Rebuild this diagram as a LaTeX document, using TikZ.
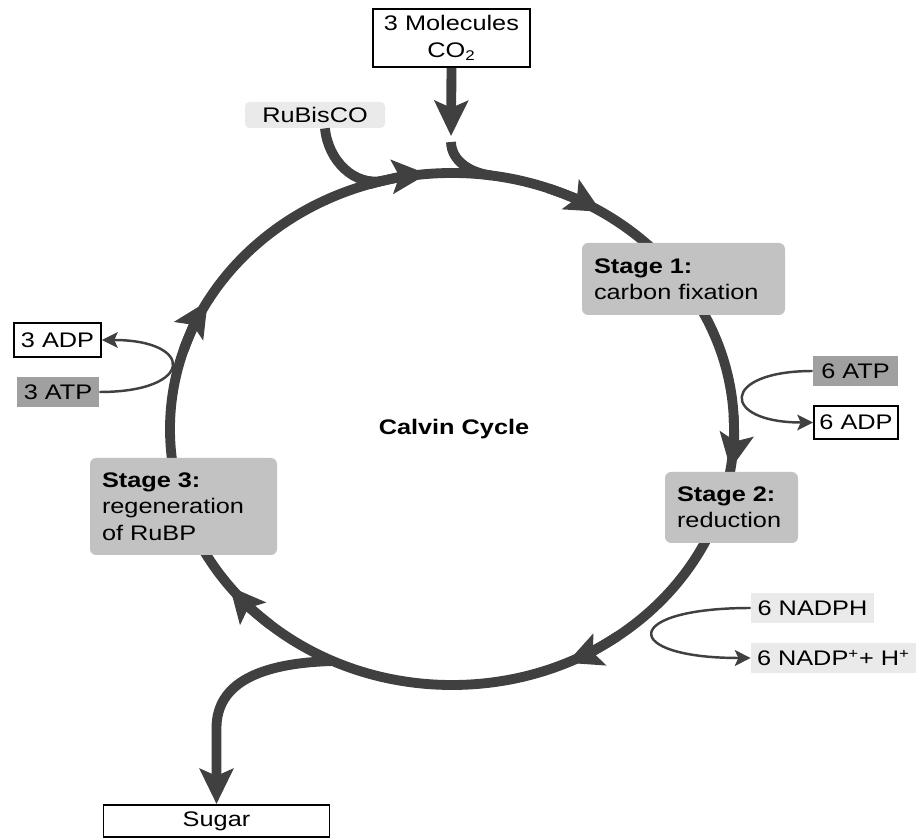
\documentclass[tikz,border=0pt]{standalone}
\usepackage{fontspec}
\setmainfont{Liberation Sans}[FakeStretch=1.2]
\usepackage{xcolor}
\usepackage{tikz}
\usetikzlibrary{arrows.meta}

\definecolor{cyclegray}{HTML}{404040}
\definecolor{stagegray}{HTML}{C2C2C2}
\definecolor{atpgray}{HTML}{A0A0A0}
\definecolor{palegray}{HTML}{EAEAEA}

\tikzset{
  every node/.style={font=\fontsize{12}{15}\selectfont},
  ring/.style={draw=cyclegray, line width=5.6pt},
  bigtip/.style={-{Stealth[length=20pt,width=19pt,inset=4pt]}},
  sidearrow/.style={draw=cyclegray, line width=1.4pt, -{Stealth[length=9pt,width=9pt,inset=2pt]}},
  stage/.style={fill=stagegray, rounded corners=3.5pt, align=left, inner xsep=0.24cm},
  whitebox/.style={draw=black, line width=1.1pt, fill=white, inner sep=0pt},
  atp/.style={fill=atpgray, inner sep=0pt},
  pale/.style={fill=palegray, inner sep=0pt},
}

\begin{document}
\begin{tikzpicture}
\useasboundingbox (0,0) rectangle (18.32,16.76);
% the cycle and its arrow heads
\draw[ring] (9.04,8.18) ellipse [x radius=5.64, y radius=5.12];
\foreach \a in {95,58,-9,-66,-142,150}
  \draw[ring, bigtip] ({9.04+5.64*cos(\a+12)},{8.18+5.12*sin(\a+12)})
    arc[start angle=\a+12, end angle=\a, x radius=5.64, y radius=5.12];
\coordinate (co2fork) at ({9.04+5.64*cos(82)},{8.18+5.12*sin(82)});
\coordinate (rubfork) at ({9.04+5.64*cos(104)},{8.18+5.12*sin(104)});
\coordinate (sugarfork) at ({9.04+5.64*cos(245)},{8.18+5.12*sin(245)});
\coordinate (co2tip) at (9.02,14.04);
\coordinate (co2gap) at (9.02,13.92);
%
\node[whitebox, minimum width=3.14cm, minimum height=1.16cm, align=center] (co2) at (9.03,16.0) {3 Molecules\\CO\textsubscript{2}};
\node[pale, rounded corners=2.5pt, minimum width=2.8cm, minimum height=0.52cm] (rubisco) at (6.30,14.46) {RuBisCO};
\node[stage, text width=3.58cm, minimum height=1.44cm] (stage1) at (13.67,11.18) {\textbf{Stage 1:}\\carbon fixation};
\node[stage, text width=2.18cm, minimum height=1.42cm] (stage2) at (14.63,6.61) {\textbf{Stage 2:}\\reduction};
\node[stage, text width=3.26cm, minimum height=1.94cm] (stage3) at (3.67,6.63) {\textbf{Stage 3:}\\regeneration\\of RuBP};
\node[font=\fontsize{12}{15}\selectfont\bfseries, anchor=base] (calvin) at (9.08,8.06) {Calvin Cycle};
\node[whitebox, minimum width=1.74cm, minimum height=0.68cm] (adp3) at (1.15,9.96) {3 ADP};
\node[atp, minimum width=1.64cm, minimum height=0.60cm] (atp3) at (1.16,8.92) {3 ATP};
\node[atp, minimum width=1.70cm, minimum height=0.60cm] (atp6) at (17.11,9.34) {6 ATP};
\node[whitebox, minimum width=1.68cm, minimum height=0.66cm] (adp6) at (17.12,8.31) {6 ADP};
\node[pale, minimum width=2.46cm, minimum height=0.60cm] (nadph) at (16.25,4.60) {6 NADPH};
\node[pale, text width=3.3cm, inner xsep=0.12cm, align=left, minimum height=0.60cm] (nadp) at (16.79,3.60) {6 NADP\textsuperscript{+}+ H\textsuperscript{+}};
\node[whitebox, minimum width=4.52cm, minimum height=0.64cm] (sugar) at (4.33,0.34) {Sugar};
%
% inputs and output of the cycle
\draw[ring, bigtip] (co2.south) -- (co2tip);
\draw[ring] (co2gap) .. controls (9.03,13.55) and (9.38,13.31) .. (co2fork);
\draw[ring] ([xshift=0.2cm]rubisco.south) .. controls (6.56,13.55) and (7.09,13.02) .. (rubfork);
\draw[ring, bigtip] (sugarfork) .. controls (5.2,3.5) and (4.33,3.1) .. (4.33,2.2) -- (sugar.north);
%
\draw[sidearrow] (atp3.east) .. controls (3.9,8.92) and (3.9,9.96) .. (adp3.east);
\draw[sidearrow] (atp6.west) .. controls (14.4,9.34) and (14.4,8.31) .. (adp6.west);
\draw[sidearrow] (nadph.west) .. controls (12.4,4.60) and (12.4,3.60) .. (nadp.west);
\end{tikzpicture}
\end{document}
